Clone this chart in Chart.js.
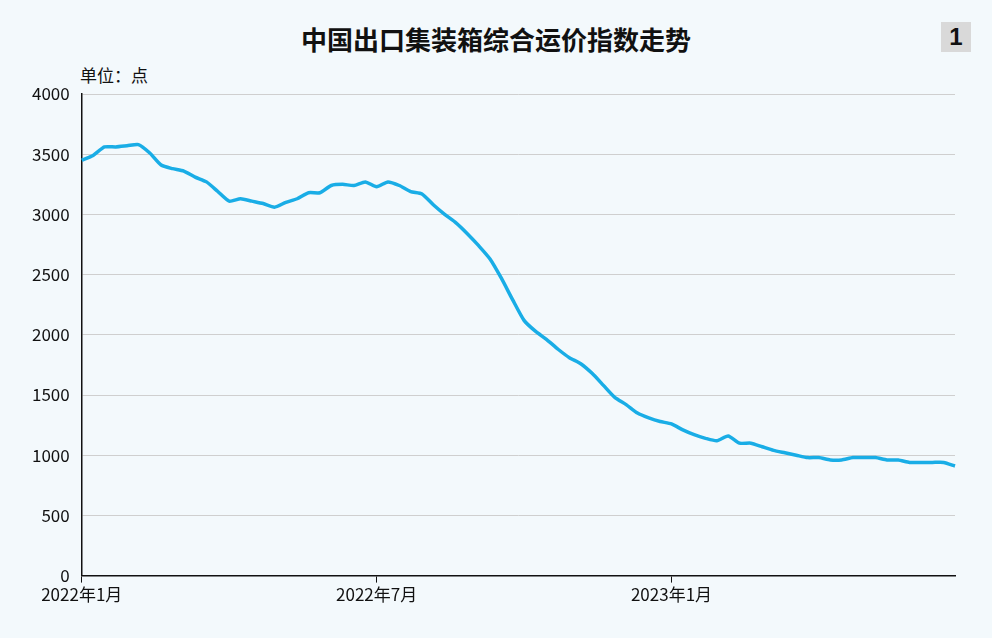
<!DOCTYPE html>
<html><head><meta charset="utf-8">
<script src="https://cdn.jsdelivr.net/npm/chart.js@4"></script>
<style>
html,body{margin:0;padding:0;background:#f3f9fc;width:992px;height:638px;overflow:hidden;font-family:"Noto Sans CJK SC","Noto Sans",sans-serif}
#t{position:absolute;top:20px;left:0;width:992px;text-align:center;font-size:26px;font-weight:bold;color:#111}
#n{position:absolute;top:22px;left:941px;width:30px;height:30px;background:#d9d9d9;font-size:24px;font-weight:bold;text-align:center;line-height:30px;color:#111;font-family:"Liberation Sans",sans-serif}
#u{position:absolute;top:62px;left:80px;font-size:17px;color:#111}
#w{position:absolute;left:0;top:0;width:992px;height:638px}
</style></head><body>
<div id="t">中国出口集装箱综合运价指数走势</div>
<div id="n">1</div>
<div id="u">单位：点</div>
<div id="w"><canvas id="c"></canvas></div>
<script>
const values=[3450,3490,3560,3560,3570,3580,3510,3410,3380,3360,3310,3270,3190,3110,3130,3110,3090,3060,3100,3130,3180,3180,3240,3250,3240,3270,3230,3270,3240,3190,3170,3080,3000,2930,2840,2740,2630,2470,2290,2120,2030,1960,1880,1810,1760,1680,1580,1480,1420,1350,1310,1280,1260,1210,1170,1140,1120,1160,1100,1100,1070,1040,1020,1000,980,980,960,960,980,980,980,960,960,940,940,940,940,910];
const tickLabels={0:"2022年1月",26:"2022年7月",52:"2023年1月"};
const yTicks=[0,500,1000,1500,2000,2500,3000,3500,4000];
const labels=values.map((v,i)=>"w"+i);
new Chart(document.getElementById('c'),{
type:'line',
data:{labels:labels,datasets:[{data:values,borderColor:'#19ade6',borderWidth:3.5,pointRadius:0,tension:0.2,fill:false}]},
options:{responsive:true,maintainAspectRatio:false,animation:false,
layout:{padding:{left:20,right:37,top:94,bottom:31}},
plugins:{legend:{display:false},tooltip:{enabled:false}},
scales:{
x:{offset:false,border:{color:'#111',width:1.5},
grid:{drawOnChartArea:false,tickLength:7,color:(c)=>tickLabels[c.index]!==undefined?'#111':'rgba(0,0,0,0)'},
ticks:{autoSkip:false,maxRotation:0,padding:2,color:'#111',font:{size:17,family:'"Noto Sans CJK SC"'},callback:(v,i)=>tickLabels[i]||''}},
y:{min:0,max:4000,border:{color:'#111',width:1.5},
grid:{color:'#cfcfcf',lineWidth:1,drawTicks:false},
afterBuildTicks:(s)=>{s.ticks=yTicks.map(v=>({value:v}));},
ticks:{padding:12,color:'#111',font:{size:17,family:'"Noto Sans CJK SC"'},callback:(v)=>String(v)}}
}}});
</script></body></html>
